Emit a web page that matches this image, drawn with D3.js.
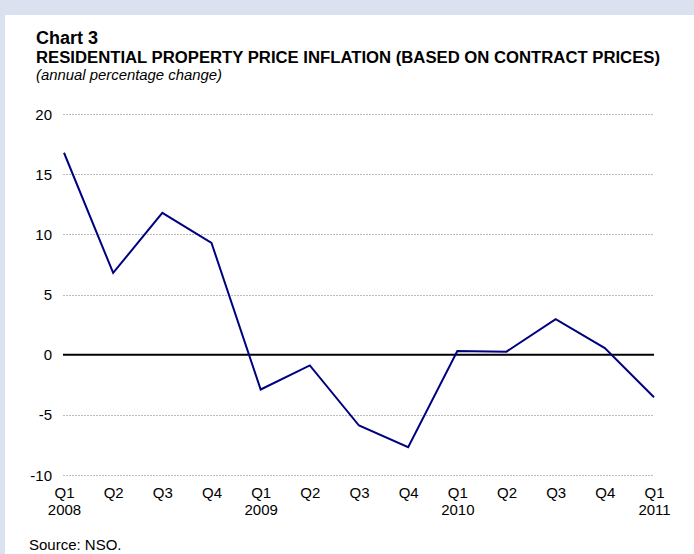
<!DOCTYPE html>
<html><head><meta charset="utf-8">
<script src="https://cdn.jsdelivr.net/npm/d3@7"></script>
<style>
html,body{margin:0;padding:0;background:#dbe2ef;}
svg{display:block;font-family:"Liberation Sans",Arial,sans-serif;}
</style></head>
<body>
<svg id="chart" width="694" height="554"></svg>
<script>
const quarters = ["Q1","Q2","Q3","Q4","Q1","Q2","Q3","Q4","Q1","Q2","Q3","Q4","Q1"];
const years    = ["2008","","","","2009","","","","2010","","","","2011"];
const values   = [16.8, 6.8, 11.8, 9.3, -2.9, -0.9, -5.9, -7.7, 0.3, 0.25, 2.95, 0.55, -3.55];
const yTicks   = [-10, -5, 0, 5, 10, 15, 20];

const FF = "Liberation Sans, Arial, sans-serif";
const FS = 15;
const svg = d3.select("#chart");
svg.append("rect").attr("width",694).attr("height",554).attr("fill","#dbe2ef");
svg.append("rect").attr("x",5).attr("y",15).attr("width",689).attr("height",539).attr("fill","#ffffff");

const idx = quarters.map((d,i)=>i);
const x = d3.scalePoint().domain(idx).range([64, 654]);
const y = d3.scaleLinear().domain([-10, 20]).range([474.8, 114.3]);

// titles
svg.append("text").attr("x",36).attr("y",43.5).attr("font-size",18).attr("font-weight","bold").attr("fill","#000").text("Chart 3");
svg.append("text").attr("x",36).attr("y",63).attr("font-size",16).attr("font-weight","bold").attr("fill","#000")
  .attr("textLength", 624).attr("lengthAdjust","spacingAndGlyphs")
  .text("RESIDENTIAL PROPERTY PRICE INFLATION (BASED ON CONTRACT PRICES)");
svg.append("text").attr("x",36).attr("y",80).attr("font-size",FS).attr("font-style","italic").attr("fill","#000")
  .attr("textLength",186).attr("lengthAdjust","spacingAndGlyphs").text("(annual percentage change)");

// gridlines
const grid = svg.append("g");
grid.selectAll("line").data(yTicks.filter(d=>d!==0)).join("line")
  .attr("x1",63).attr("x2",654).attr("y1",d=>Math.round(y(d))+0.5).attr("y2",d=>Math.round(y(d))+0.5)
  .attr("stroke","#bcbcbc").attr("stroke-width",1).attr("stroke-dasharray","2,1");

// y axis labels
const yAxis = d3.axisLeft(y).tickValues(yTicks).tickSize(0).tickPadding(0).tickFormat(d => String(d));
const ya = svg.append("g").attr("transform","translate(52,0)").call(yAxis);
ya.attr("font-size",FS).attr("font-family",FF);
ya.select(".domain").remove();
ya.selectAll("text").attr("font-size",FS).attr("fill","#000").attr("font-family",FF).attr("dy","0.35em");

// zero line
svg.append("line").attr("x1",63).attr("x2",654).attr("y1",y(0)).attr("y2",y(0)).attr("stroke","#000").attr("stroke-width",2);

// series
const line = d3.line().x((d,i)=>x(i)).y(d=>y(d));
svg.append("path").datum(values).attr("d",line).attr("fill","none").attr("stroke","#000080").attr("stroke-width",2).attr("stroke-linejoin","miter");

// x labels
const xAxis = d3.axisBottom(x).tickSize(0).tickPadding(0).tickFormat(i=>quarters[i]);
const xa = svg.append("g").attr("transform","translate(0,486)").call(xAxis);
xa.attr("font-size",FS).attr("font-family",FF);
xa.select(".domain").remove();
xa.selectAll("text").attr("font-size",FS).attr("fill","#000").attr("font-family",FF).attr("y",12).attr("dy",null);
xa.selectAll(".tick").append("text").attr("y",29).attr("font-size",FS).attr("fill","#000")
  .attr("font-family",FF).attr("text-anchor","middle").text(i=>years[i]);

// source
svg.append("text").attr("x",29).attr("y",549.5).attr("font-size",FS).attr("fill","#000").text("Source: NSO.");
</script>
</body></html>
